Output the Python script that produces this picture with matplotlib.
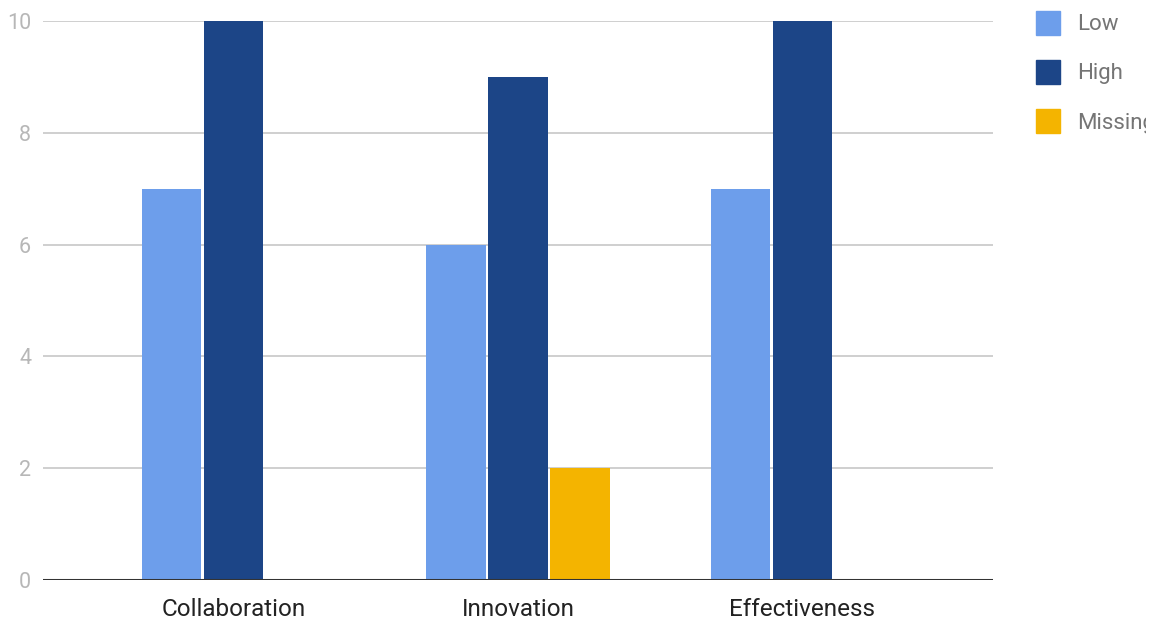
import matplotlib.pyplot as plt
import numpy as np
from matplotlib.patches import Rectangle

categories = ["Collaboration", "Innovation", "Effectiveness"]
series_names = ["Low", "High", "Missing"]
low_values = [7, 6, 7]
high_values = [10, 9, 10]
missing_values = [0, 2, 0]
colors = ["#6d9eeb", "#1c4587", "#f4b400"]
y_ticks = [0, 2, 4, 6, 8, 10]

W, H = 1155, 619
plt.rcParams["font.family"] = ["Roboto", "DejaVu Sans"]

fig = plt.figure(figsize=(W / 100, H / 100), dpi=100)
ax = fig.add_axes([43 / W, (H - 580) / H, (993 - 43) / W, (580 - 21) / H])

x = np.arange(len(categories))
offset = 0.218
width = 0.208
for i, (vals, col) in enumerate(zip([low_values, high_values, missing_values], colors)):
    ax.bar(x + (i - 1) * offset, vals, width=width, color=col, zorder=3)

ax.set_xlim(-0.67, 2.67)
ax.set_ylim(0, 10)
ax.set_yticks(y_ticks)
ax.set_yticklabels([str(t) for t in y_ticks], color="#b7b7b7", fontsize=15.5)
ax.set_xticks(x)
ax.set_xticklabels(categories, color="#222222", fontsize=17.5)
ax.tick_params(axis="both", length=0)
ax.tick_params(axis="y", pad=8.5)
ax.tick_params(axis="x", pad=13)

ax.grid(axis="y", color="#cccccc", linewidth=1.3, zorder=0)
ax.axhline(0, color="#333333", linewidth=2.2, zorder=4)
for s in ax.spines.values():
    s.set_visible(False)

# legend on the right, clipped at the chart edge like the original
clip = Rectangle((0, 0), 1146 / W, 1, transform=fig.transFigure, visible=False)
fig.add_artist(clip)
for i, (name, col) in enumerate(zip(series_names, colors)):
    yc = 23 + i * 49
    fig.add_artist(Rectangle((1036 / W, (H - yc - 12) / H), 24 / W, 24 / H,
                             transform=fig.transFigure, color=col))
    t = fig.text(1077 / W, (H - yc - 2) / H, name, va="center", ha="left",
                 fontsize=16, color="#757575")
    t.set_clip_path(clip)

fig.savefig("out.png", dpi=100)
